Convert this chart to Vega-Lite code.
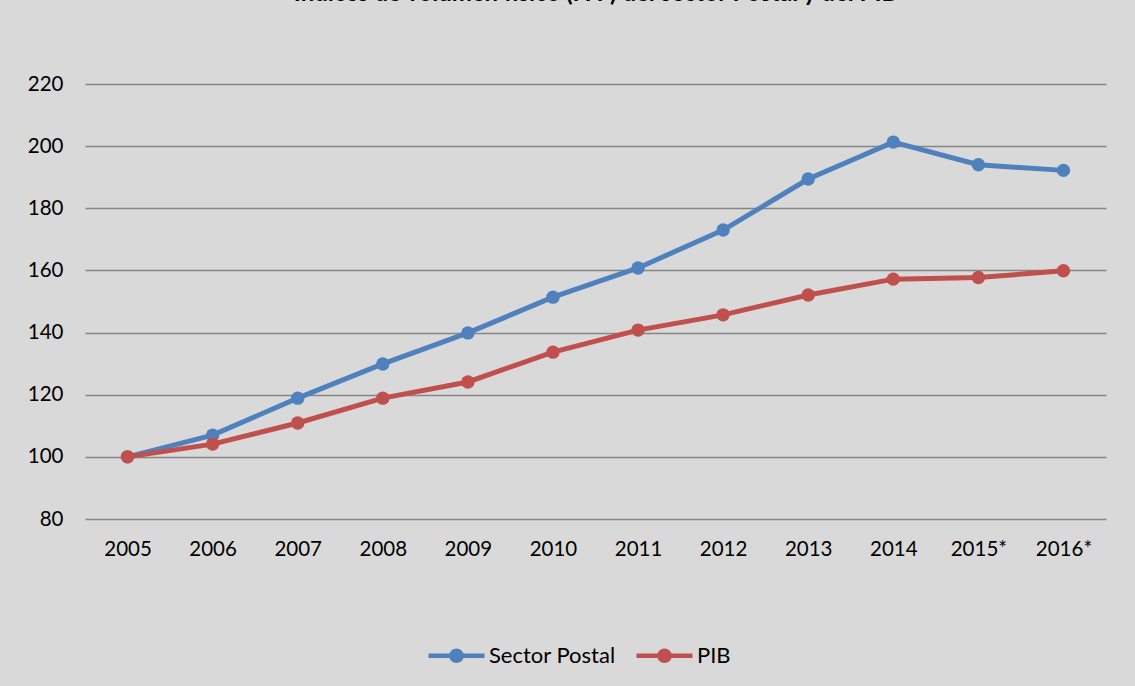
{
  "$schema": "https://vega.github.io/schema/vega-lite/v6.json",
  "autosize": {"type": "none"},
  "width": 1021,
  "height": 435,
  "padding": {"left": 85, "top": 84, "right": 29, "bottom": 167},
  "background": "#d9d9d9",
  "title": {
    "text": "Índices de volumen físico (IVF) del sector Postal y del PIB",
    "font": "Lato",
    "fontSize": 24,
    "fontWeight": "bold",
    "color": "#000000",
    "anchor": "middle",
    "baseline": "alphabetic",
    "offset": 49
  },
  "config": {
    "view": {"stroke": null},
    "font": "Lato",
    "axis": {
      "labelFont": "Lato",
      "labelFontSize": 20.5,
      "labelColor": "#000000",
      "ticks": false,
      "domain": false,
      "title": null
    },
    "legend": {"labelFont": "Lato", "labelFontSize": 22, "labelColor": "#000000"}
  },
  "data": {
    "values": [
      {"year": "2005", "serie": "Sector Postal", "valor": 100},
      {"year": "2006", "serie": "Sector Postal", "valor": 107},
      {"year": "2007", "serie": "Sector Postal", "valor": 118.9},
      {"year": "2008", "serie": "Sector Postal", "valor": 129.9},
      {"year": "2009", "serie": "Sector Postal", "valor": 139.9},
      {"year": "2010", "serie": "Sector Postal", "valor": 151.4},
      {"year": "2011", "serie": "Sector Postal", "valor": 160.8},
      {"year": "2012", "serie": "Sector Postal", "valor": 173},
      {"year": "2013", "serie": "Sector Postal", "valor": 189.4},
      {"year": "2014", "serie": "Sector Postal", "valor": 201.3},
      {"year": "2015*", "serie": "Sector Postal", "valor": 194},
      {"year": "2016*", "serie": "Sector Postal", "valor": 192.2},
      {"year": "2005", "serie": "PIB", "valor": 100},
      {"year": "2006", "serie": "PIB", "valor": 104.1},
      {"year": "2007", "serie": "PIB", "valor": 110.9},
      {"year": "2008", "serie": "PIB", "valor": 118.9},
      {"year": "2009", "serie": "PIB", "valor": 124.1},
      {"year": "2010", "serie": "PIB", "valor": 133.7},
      {"year": "2011", "serie": "PIB", "valor": 140.8},
      {"year": "2012", "serie": "PIB", "valor": 145.7},
      {"year": "2013", "serie": "PIB", "valor": 152.1},
      {"year": "2014", "serie": "PIB", "valor": 157.2},
      {"year": "2015*", "serie": "PIB", "valor": 157.7},
      {"year": "2016*", "serie": "PIB", "valor": 159.9}
    ]
  },
  "encoding": {
    "x": {
      "field": "year",
      "type": "ordinal",
      "sort": null,
      "scale": {"type": "point", "padding": 0.5},
      "axis": {"labelAngle": 0, "labelPadding": 20, "grid": false}
    },
    "y": {
      "field": "valor",
      "type": "quantitative",
      "scale": {"domain": [80, 220], "nice": false, "zero": false},
      "axis": {"values": [80, 100, 120, 140, 160, 180, 200, 220], "labelPadding": 22, "grid": true, "gridColor": "#868686", "gridWidth": 1.6}
    },
    "color": {
      "field": "serie",
      "type": "nominal",
      "sort": ["Sector Postal", "PIB"],
      "scale": {"domain": ["Sector Postal", "PIB"], "range": ["#4f81bd", "#c0504d"]},
      "legend": {
        "orient": "none",
        "direction": "horizontal",
        "legendX": 341,
        "legendY": 541,
        "title": null,
        "symbolType": "M-1,0H1M0.18,0A0.18,0.18,0,1,1,-0.18,0A0.18,0.18,0,1,1,0.18,0Z",
        "symbolSize": 3136,
        "symbolStrokeWidth": 4.5,
        "labelOffset": 2,
        "columnPadding": 11,
        "encode": {"symbols": {"update": {"fill": {"scale": "color", "field": "value"}, "stroke": {"scale": "color", "field": "value"}}}}
      }
    }
  },
  "layer": [
    {"mark": {"type": "line", "strokeWidth": 5}},
    {"mark": {"type": "point", "filled": true, "size": 180, "opacity": 1}}
  ]
}
